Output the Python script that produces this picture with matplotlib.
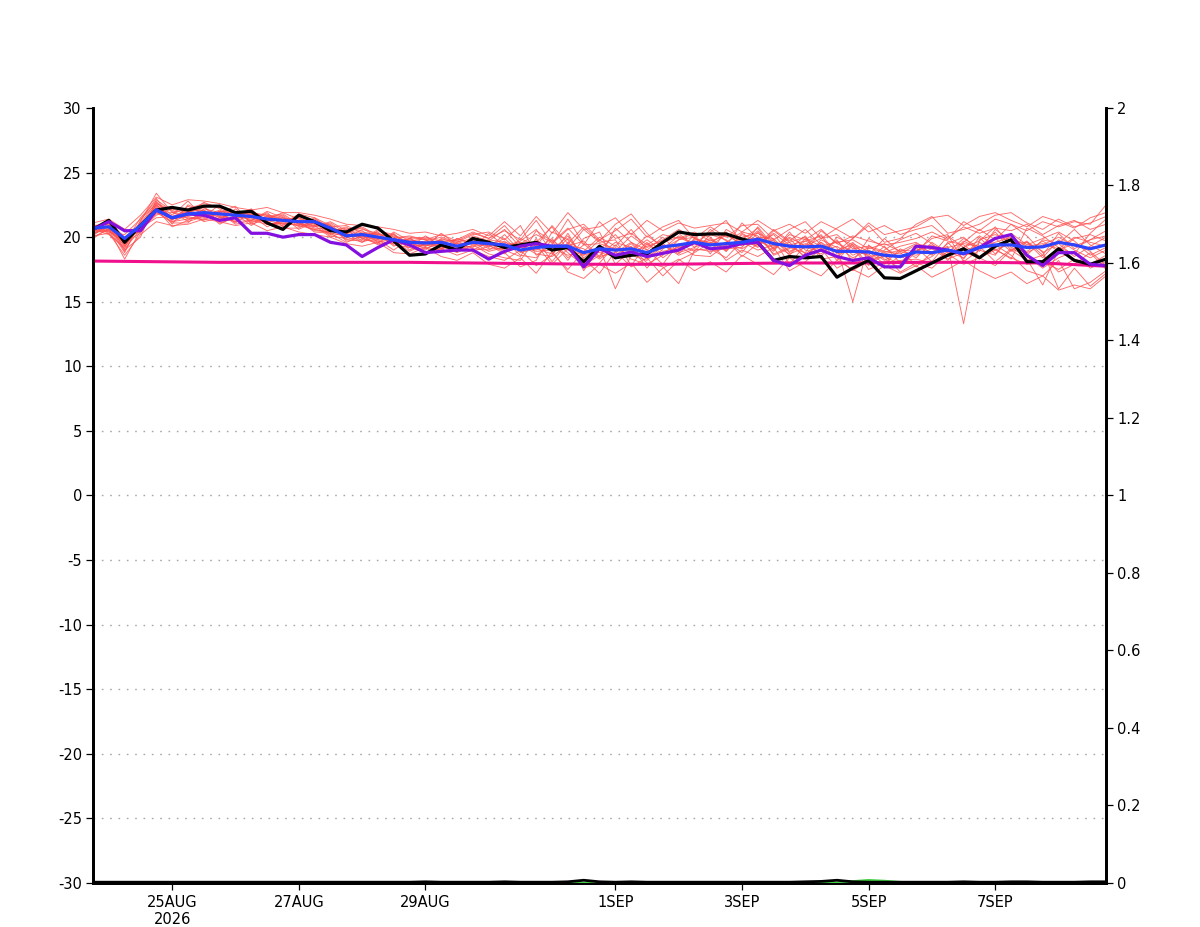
import matplotlib
matplotlib.use("Agg")
import matplotlib.pyplot as plt
import pandas as pd

# 6-hourly time axis, 23AUG2026 18Z -> 8SEP2026 18Z
times = pd.date_range("2026-08-23 18:00", periods=65, freq="6h")
days = pd.date_range("2026-08-23 18:00", periods=17, freq="1D")

black = [20.6, 21.3, 19.6, 20.9, 22.1, 22.3, 22.1, 22.4, 22.4, 21.9, 22.0, 21.1, 20.6,
         21.7, 21.2, 20.5, 20.4, 21.0, 20.7, 19.7, 18.6, 18.7, 19.4, 19.0, 19.9, 19.6,
         19.2, 19.4, 19.6, 19.0, 19.2, 18.1, 19.3, 18.4, 18.6, 18.7, 19.6, 20.4, 20.2,
         20.25, 20.25, 19.85, 19.6, 18.2, 18.5, 18.4, 18.5, 16.9, 17.6, 18.2, 16.85, 16.8,
         17.4, 18.0, 18.6, 19.1, 18.4, 19.3, 19.8, 18.1, 18.1, 19.1, 18.2, 17.9, 18.3]

purple = [20.6, 21.2, 20.5, 20.5, 22.1, 21.5, 21.8, 21.7, 21.3, 21.5, 20.3, 20.3, 20.0,
          20.2, 20.2, 19.6, 19.4, 18.5, 19.2, 19.8, 19.4, 18.8, 18.9, 19.0, 19.0, 18.3,
          18.9, 19.3, 19.5, 19.3, 19.3, 17.7, 19.1, 18.6, 18.85, 18.5, 18.75, 19.0, 19.6,
          19.1, 19.2, 19.5, 19.6, 18.2, 17.8, 18.6, 19.0, 18.5, 18.2, 18.4, 17.7, 17.7,
          19.3, 19.2, 19.0, 18.7, 19.2, 19.9, 20.2, 18.6, 17.8, 18.8, 18.8, 17.9, 17.8]

blue = [20.7, 20.8, 19.9, 20.9, 22.1, 21.5, 21.8, 21.9, 21.8, 21.7, 21.6, 21.4, 21.3,
        21.2, 21.2, 20.7, 20.1, 20.2, 20.0, 19.8, 19.6, 19.55, 19.6, 19.3, 19.6, 19.5,
        19.4, 19.0, 19.2, 19.3, 19.3, 18.8, 19.1, 19.0, 19.1, 18.8, 19.25, 19.4, 19.6,
        19.4, 19.5, 19.6, 19.85, 19.5, 19.3, 19.25, 19.3, 18.9, 18.9, 18.85, 18.6, 18.5,
        18.85, 18.8, 19.0, 18.75, 19.2, 19.4, 19.4, 19.2, 19.25, 19.6, 19.4, 19.1, 19.4]

# daily values of the smooth magenta curve
magenta = [18.15, 18.1, 18.05, 18.05, 18.05, 18.05, 18.0, 17.95, 17.9,
           17.9, 17.95, 18.0, 18.0, 18.05, 18.05, 18.0, 17.75]

members = [
    [20.9, 21.0, 19.4, 21.2, 23.4, 21.9, 22.2, 22.6, 22.3, 21.9, 21.5, 21.8, 21.2,
     21.5, 21.0, 20.6, 20.3, 20.8, 20.1, 19.6, 19.9, 19.3, 19.8, 19.0, 20.1, 19.7,
     20.6, 19.2, 19.6, 20.8, 19.0, 18.6, 19.8, 18.9, 20.1, 19.2, 19.8, 20.6, 19.9,
     19.3, 20.2, 19.4, 20.5, 19.1, 19.9, 18.7, 19.6, 18.2, 19.5, 18.9, 17.9, 19.1,
     18.4, 19.6, 18.8, 19.9, 19.2, 20.4, 19.0, 19.7, 18.6, 20.3, 19.1, 19.8, 20.5],
    [20.3, 20.6, 18.3, 20.5, 21.9, 21.2, 21.4, 21.6, 22.1, 21.5, 22.2, 21.0, 21.1,
     20.9, 21.5, 20.9, 19.8, 20.0, 20.4, 19.4, 19.2, 20.1, 19.3, 18.8, 19.4, 18.7,
     18.4, 18.2, 19.9, 18.1, 19.6, 17.6, 18.0, 19.4, 18.3, 17.9, 18.6, 19.8, 20.3,
     20.0, 18.9, 20.3, 19.6, 20.2, 18.8, 19.7, 20.1, 18.4, 17.4, 18.2, 19.3, 18.0,
     19.2, 18.1, 19.6, 18.3, 20.0, 18.7, 19.9, 18.5, 17.6, 18.4, 18.9, 17.6, 18.1],
    [21.0, 20.4, 20.2, 21.4, 22.6, 21.0, 22.5, 22.0, 21.3, 22.2, 21.1, 21.6, 21.8,
     21.0, 20.8, 21.2, 20.5, 19.9, 19.6, 20.3, 19.0, 19.7, 20.0, 19.6, 20.2, 20.4,
     19.8, 20.9, 18.6, 19.4, 21.4, 19.5, 18.4, 20.7, 19.6, 19.0, 20.0, 18.8, 19.2,
     20.6, 19.7, 18.8, 20.4, 18.6, 19.1, 20.1, 18.5, 20.0, 19.4, 17.8, 19.0, 19.8,
     20.3, 19.5, 18.2, 19.6, 20.6, 19.8, 21.0, 20.1, 18.8, 19.5, 20.6, 19.4, 18.7],
    [20.1, 21.1, 19.0, 20.0, 22.9, 22.0, 21.2, 21.6, 22.5, 21.4, 21.8, 21.1, 20.9,
     21.6, 21.3, 20.2, 20.6, 19.7, 19.8, 20.2, 19.4, 19.0, 19.9, 19.5, 18.9, 19.3,
     19.0, 18.5, 20.5, 19.7, 18.2, 19.9, 20.4, 17.9, 19.0, 20.1, 19.3, 18.9, 20.2,
     18.7, 20.6, 19.9, 19.2, 20.5, 19.6, 18.4, 19.8, 19.2, 15.0, 19.4, 18.3, 17.6,
     18.9, 19.9, 20.2, 18.1, 19.0, 18.6, 20.3, 19.4, 19.9, 20.4, 19.7, 18.6, 19.2],
    [20.5, 20.9, 19.8, 20.7, 21.5, 21.6, 21.9, 22.3, 21.6, 21.2, 21.3, 22.0, 21.5,
     21.0, 20.6, 20.4, 20.7, 20.5, 19.6, 19.9, 20.1, 19.8, 19.1, 19.9, 19.4, 19.8,
     19.6, 19.3, 18.9, 19.0, 20.1, 18.4, 19.3, 18.6, 19.5, 18.3, 19.6, 20.0, 19.4,
     19.9, 19.0, 20.0, 20.3, 19.7, 18.9, 19.5, 19.0, 19.7, 18.6, 19.2, 18.8, 19.3,
     19.6, 18.7, 19.3, 13.3, 19.8, 20.2, 19.6, 18.8, 19.4, 20.0, 19.3, 19.8, 20.1],
    [20.6, 20.2, 19.2, 21.0, 22.4, 21.4, 21.6, 21.3, 22.0, 21.9, 21.2, 21.5, 21.7,
     20.8, 21.1, 20.1, 19.9, 20.6, 20.3, 19.3, 19.8, 19.6, 19.2, 19.1, 20.0, 19.2,
     20.2, 18.9, 19.4, 17.9, 19.1, 20.6, 19.6, 19.8, 17.8, 19.5, 18.7, 19.1, 19.8,
     19.6, 19.3, 21.1, 19.9, 18.9, 20.4, 19.0, 18.7, 19.8, 18.1, 19.9, 19.2, 18.4,
     18.8, 20.1, 19.7, 19.4, 18.5, 19.1, 18.3, 20.7, 20.1, 19.2, 18.7, 20.3, 21.4],
    [19.9, 20.7, 18.8, 21.3, 23.0, 21.3, 22.4, 21.8, 21.4, 22.0, 21.7, 20.8, 21.4,
     21.3, 20.9, 21.0, 20.0, 19.6, 20.5, 20.2, 19.5, 19.3, 20.3, 19.4, 19.2, 20.3,
     19.3, 19.7, 20.6, 18.8, 17.5, 18.9, 20.0, 19.3, 20.6, 19.0, 17.9, 19.5, 18.9,
     20.2, 19.8, 18.5, 19.5, 19.8, 17.9, 19.4, 20.2, 18.7, 19.0, 18.6, 19.9, 18.8,
     17.9, 18.5, 19.5, 20.0, 18.9, 20.6, 19.7, 18.3, 16.3, 19.0, 19.5, 18.9, 17.8],
    [20.4, 20.5, 19.6, 20.3, 22.2, 20.8, 21.3, 21.9, 21.7, 21.3, 22.1, 21.3, 21.0,
     21.8, 21.5, 20.5, 20.0, 20.1, 19.7, 19.5, 19.7, 19.9, 19.5, 18.9, 19.7, 19.6,
     18.8, 17.7, 18.2, 20.4, 19.8, 17.4, 19.2, 16.0, 18.6, 18.2, 19.4, 18.6, 19.1,
     18.9, 19.1, 19.2, 20.8, 19.3, 19.6, 20.0, 18.3, 18.5, 19.3, 17.5, 18.0, 18.2,
     18.3, 18.0, 18.9, 18.4, 19.6, 19.0, 19.5, 19.6, 18.9, 16.0, 17.6, 16.2, 17.2],
    [20.8, 20.3, 19.1, 20.6, 21.7, 22.2, 21.7, 22.1, 21.0, 21.6, 21.4, 21.2, 20.7,
     20.7, 21.4, 20.8, 20.3, 20.0, 19.9, 19.7, 18.9, 19.5, 19.8, 19.7, 19.1, 19.0,
     19.7, 18.6, 18.4, 19.8, 18.8, 17.8, 18.6, 19.6, 19.2, 18.0, 17.7, 16.4, 19.0,
     19.1, 18.4, 19.7, 19.3, 20.3, 19.4, 18.5, 19.6, 18.8, 19.6, 18.3, 18.5, 17.9,
     19.0, 19.3, 18.6, 19.2, 20.1, 19.4, 18.6, 17.4, 17.0, 18.2, 16.0, 16.5, 17.4],
    [20.2, 20.9, 18.9, 21.1, 22.7, 21.7, 22.8, 21.5, 22.0, 21.1, 21.9, 21.6, 21.3,
     21.1, 20.7, 20.6, 20.4, 20.4, 20.2, 20.1, 19.6, 19.1, 19.6, 19.8, 20.4, 19.9,
     20.9, 19.5, 20.2, 19.6, 20.7, 19.4, 21.2, 19.9, 20.3, 19.4, 20.2, 19.9, 20.4,
     19.7, 20.1, 19.8, 20.7, 19.0, 20.2, 19.8, 20.6, 19.5, 20.1, 19.7, 19.4, 19.6,
     19.9, 20.4, 19.8, 21.2, 20.5, 21.4, 21.0, 20.5, 21.2, 20.8, 21.2, 21.0, 22.5],
    [20.7, 21.2, 20.0, 20.4, 22.0, 21.1, 21.1, 22.2, 21.9, 22.4, 21.0, 21.4, 21.9,
     21.4, 21.1, 20.9, 19.7, 19.8, 20.6, 20.0, 19.3, 19.4, 19.4, 19.2, 19.3, 19.4,
     18.7, 19.9, 19.3, 20.9, 19.5, 20.8, 19.7, 21.0, 21.8, 20.3, 19.1, 20.1, 19.5,
     20.4, 21.3, 19.5, 19.4, 20.6, 19.7, 20.6, 19.4, 18.9, 19.9, 20.9, 19.6, 19.9,
     21.0, 21.6, 20.3, 20.6, 21.0, 21.7, 21.9, 21.1, 20.6, 21.4, 20.8, 21.1, 21.6],
    [20.5, 21.3, 20.4, 20.8, 21.8, 21.9, 21.5, 21.4, 22.0, 21.7, 21.5, 21.2, 21.5,
     21.2, 20.4, 20.3, 20.1, 20.3, 19.8, 19.0, 19.9, 20.0, 19.7, 19.3, 19.8, 19.1,
     19.1, 19.4, 18.7, 18.5, 19.4, 19.1, 18.3, 19.2, 18.5, 19.6, 18.4, 19.3, 18.6,
     18.5, 19.4, 19.6, 19.0, 19.4, 18.7, 19.2, 18.9, 19.3, 18.4, 19.0, 18.2, 18.9,
     18.6, 19.1, 18.3, 18.8, 18.4, 19.0, 18.4, 17.9, 18.1, 17.5, 18.3, 17.9, 18.6],
    [20.0, 20.6, 19.3, 20.9, 22.5, 21.5, 22.1, 21.2, 21.5, 21.8, 20.9, 21.7, 21.0,
     21.0, 20.9, 20.0, 20.5, 20.7, 20.0, 19.9, 19.4, 19.2, 19.0, 19.9, 19.5, 19.4,
     19.5, 19.0, 19.7, 19.2, 18.6, 18.9, 18.8, 18.5, 19.3, 17.6, 19.1, 19.8, 20.0,
     19.0, 19.6, 20.4, 20.1, 18.7, 19.2, 18.8, 20.5, 19.5, 18.9, 18.7, 17.6, 18.6,
     17.7, 18.8, 19.2, 19.5, 19.3, 18.1, 19.1, 18.6, 19.8, 19.5, 18.5, 19.3, 20.0],
    [20.6, 20.4, 19.7, 21.0, 22.3, 21.6, 21.9, 22.4, 21.1, 21.5, 21.6, 21.3, 21.6,
     20.6, 21.2, 20.7, 20.2, 20.2, 20.3, 19.8, 19.5, 19.7, 19.4, 19.5, 19.6, 18.9,
     19.2, 19.2, 19.0, 19.9, 18.4, 19.4, 19.5, 19.1, 18.9, 19.8, 18.9, 19.2, 19.6,
     19.4, 19.5, 19.1, 19.8, 19.6, 19.4, 19.7, 19.1, 19.0, 19.4, 18.5, 18.7, 19.0,
     18.9, 19.4, 18.9, 19.0, 19.3, 19.6, 20.0, 19.3, 19.5, 19.1, 20.0, 19.6, 19.3],
    [20.3, 20.8, 19.5, 21.5, 22.8, 21.2, 21.7, 21.8, 21.6, 21.2, 21.8, 21.0, 21.2,
     21.1, 20.5, 20.4, 20.8, 19.9, 19.5, 20.4, 19.7, 19.4, 19.1, 19.6, 19.9, 19.3,
     19.9, 18.8, 19.1, 18.7, 19.9, 18.6, 19.0, 20.2, 18.8, 19.3, 19.7, 20.3, 19.2,
     19.8, 18.9, 20.2, 19.7, 19.2, 20.0, 19.3, 19.9, 20.2, 19.1, 19.3, 18.9, 18.7,
     19.4, 18.6, 20.1, 19.2, 19.7, 20.8, 19.2, 18.9, 19.7, 18.9, 19.9, 20.2, 19.7],
    [20.8, 20.6, 19.9, 20.5, 22.6, 22.1, 21.4, 21.7, 21.9, 21.0, 21.3, 21.9, 20.8,
     21.3, 20.8, 21.1, 20.3, 19.6, 20.1, 19.6, 19.9, 19.3, 19.7, 19.2, 19.0, 19.6,
     19.3, 19.6, 19.4, 19.0, 19.3, 19.7, 18.5, 18.8, 19.6, 18.6, 19.5, 18.7, 19.9,
     19.5, 20.4, 19.3, 20.0, 19.9, 18.6, 19.9, 19.3, 19.6, 19.8, 19.1, 19.5, 18.9,
     19.5, 19.2, 18.5, 19.7, 19.1, 19.9, 18.9, 19.6, 18.4, 19.8, 19.0, 18.4, 19.0],
    [20.1, 20.3, 18.6, 20.2, 21.2, 20.9, 21.0, 21.4, 21.2, 20.9, 21.1, 20.5, 20.8,
     20.4, 20.2, 20.0, 19.5, 19.3, 19.6, 18.8, 18.7, 19.2, 18.5, 18.2, 18.8, 17.9,
     17.6, 18.4, 17.2, 18.9, 17.3, 16.8, 17.9, 17.2, 18.0, 16.5, 17.6, 18.3, 17.4,
     18.1, 17.3, 18.6, 17.9, 17.1, 18.4, 17.6, 17.0, 18.2, 17.5, 16.9, 17.8, 17.2,
     17.8, 16.9, 17.5, 18.2, 17.4, 16.8, 17.3, 16.4, 17.0, 15.9, 16.3, 16.0, 17.0],
    [21.1, 21.4, 20.6, 21.7, 23.1, 22.5, 22.9, 22.8, 22.6, 22.3, 22.1, 22.3, 21.9,
     21.9, 21.7, 21.4, 21.0, 20.9, 20.8, 20.6, 20.3, 20.4, 20.1, 20.3, 20.6, 20.1,
     21.2, 20.1, 21.6, 20.3, 21.9, 20.6, 20.8, 21.5, 20.2, 21.3, 20.5, 21.1, 20.7,
     20.9, 21.1, 20.4, 21.3, 20.5, 21.0, 20.3, 21.2, 20.6, 19.9, 21.1, 20.2, 20.5,
     20.8, 21.5, 21.7, 20.9, 21.6, 21.9, 21.3, 20.8, 21.6, 21.2, 20.7, 21.5, 21.9],
    [20.4, 20.9, 19.3, 21.0, 22.5, 21.4, 22.0, 22.1, 21.5, 21.8, 21.3, 21.0, 21.1,
     20.9, 20.6, 20.3, 19.6, 20.1, 19.4, 19.8, 19.2, 18.8, 19.1, 18.6, 19.0, 18.5,
     18.2, 19.0, 17.8, 18.6, 20.3, 18.3, 17.2, 18.9, 17.7, 18.4, 17.0, 18.2, 18.8,
     19.6, 18.2, 19.0, 18.5, 19.2, 17.4, 18.1, 19.1, 17.6, 18.3, 17.9, 18.6, 17.3,
     18.0, 17.6, 18.7, 17.9, 18.4, 17.8, 19.0, 18.2, 18.6, 17.3, 17.9, 18.8, 17.5],
    [20.7, 20.5, 19.8, 21.1, 22.0, 22.4, 21.8, 22.7, 22.2, 21.6, 21.9, 21.7, 21.4,
     21.5, 21.0, 20.8, 20.9, 20.3, 20.2, 20.0, 20.0, 19.8, 20.2, 19.7, 20.3, 19.9,
     20.5, 19.8, 21.3, 19.5, 20.6, 21.0, 19.8, 20.5, 21.4, 20.0, 20.8, 21.3, 19.9,
     20.8, 20.0, 20.9, 21.0, 19.8, 20.6, 21.2, 19.9, 20.7, 21.4, 20.4, 20.9, 20.2,
     20.6, 20.9, 19.9, 20.8, 20.3, 20.7, 20.5, 21.0, 20.2, 20.9, 21.3, 20.6, 21.0],
]

# small series along the bottom (right axis)
low_black = [0.002, 0.002, 0.002, 0.002, 0.002, 0.002, 0.002, 0.002, 0.002, 0.002, 0.002, 0.002, 0.002,
             0.002, 0.002, 0.002, 0.002, 0.002, 0.002, 0.002, 0.002, 0.003, 0.002, 0.002, 0.002, 0.002,
             0.003, 0.002, 0.002, 0.002, 0.003, 0.007, 0.003, 0.002, 0.003, 0.002, 0.002, 0.002, 0.002,
             0.002, 0.002, 0.002, 0.002, 0.002, 0.002, 0.003, 0.004, 0.007, 0.003, 0.002, 0.002, 0.002,
             0.002, 0.002, 0.002, 0.003, 0.002, 0.002, 0.003, 0.003, 0.002, 0.002, 0.002, 0.003, 0.003]
low_green = [0, 0, 0, 0, 0, 0, 0, 0, 0, 0, 0, 0, 0,
             0, 0, 0, 0, 0, 0, 0, 0, 0, 0, 0, 0, 0,
             0, 0, 0, 0, 0, 0, 0, 0, 0, 0, 0, 0, 0,
             0, 0, 0, 0, 0, 0, 0, 0, 0, 0.004, 0.007, 0.005, 0.002,
             0, 0, 0, 0, 0, 0, 0, 0, 0, 0, 0, 0, 0]

left_ticks = list(range(-30, 31, 5))
right_ticks = [0, 0.2, 0.4, 0.6, 0.8, 1, 1.2, 1.4, 1.6, 1.8, 2]
right_labels = ["0", "0.2", "0.4", "0.6", "0.8", "1", "1.2", "1.4", "1.6", "1.8", "2"]
xtick_dates = pd.to_datetime(["2026-08-25", "2026-08-27", "2026-08-29", "2026-09-01",
                              "2026-09-03", "2026-09-05", "2026-09-07"])
xtick_labels = ["25AUG\n2026", "27AUG", "29AUG", "1SEP", "3SEP", "5SEP", "7SEP"]

plt.rcParams["font.family"] = ["DejaVu Sans"]
fig = plt.figure(figsize=(12, 9.27), dpi=100)
ax = fig.add_axes([0.0775, 0.0475, 0.8442, 0.836])

for m in members:
    ax.plot(times, m, color="#ff5050", lw=0.65, alpha=0.85, zorder=2)
ax.plot(days, magenta, color="#f0108c", lw=2.2, zorder=3)
ax.plot(times, black, color="black", lw=2.3, zorder=4)
ax.plot(times, purple, color="#8410e0", lw=2.3, zorder=5)
ax.plot(times, blue, color="#2a44ff", lw=2.3, zorder=6)

ax.set_ylim(-30, 30)
ax.set_xlim(times[0], times[-1])
ax.set_yticks(left_ticks)
ax.set_yticklabels([str(t) for t in left_ticks])
for t in left_ticks[1:-1]:
    ax.axhline(t, color="#a8a8a8", lw=1.0, ls=(0, (1.2, 4.8)), zorder=1)

ax.set_xticks(xtick_dates)
ax.set_xticklabels(xtick_labels, linespacing=1.15)

ax2 = ax.twinx()
ax2.set_ylim(0, 2)
ax2.set_yticks(right_ticks)
ax2.set_yticklabels(right_labels)
ax2.plot(times, low_green, color="#40d040", lw=1.8, zorder=3)
ax2.plot(times, low_black, color="black", lw=2.0, zorder=4)

for a in (ax, ax2):
    a.spines["top"].set_visible(False)
    for s in ("left", "right", "bottom"):
        a.spines[s].set_linewidth(2.0)
    a.tick_params(axis="both", labelsize=10.5, length=5, width=0.9, direction="out")
ax.tick_params(axis="x", pad=4)
ax.tick_params(axis="y", pad=3)
ax2.tick_params(axis="y", pad=3)

fig.savefig("out.png", dpi=100)
